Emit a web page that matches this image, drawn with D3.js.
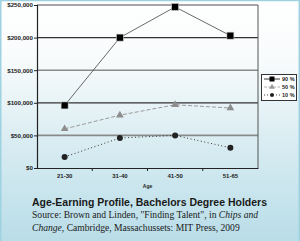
<!DOCTYPE html>
<html><head><meta charset="utf-8">
<script src="https://cdn.jsdelivr.net/npm/d3@7"></script>
<style>html,body{margin:0;padding:0;overflow:hidden}svg{display:block}</style>
</head><body>
<script>
const categories = ["21-30", "31-40", "41-50", "51-65"];
const p90 = [96000, 200000, 247000, 203000];
const p50 = [60000, 81000, 97000, 92000];
const p10 = [17000, 46000, 50000, 31000];
const yTicks = [0, 50000, 100000, 150000, 200000, 250000];
const seriesNames = ["90 %", "50 %", "10 %"];

const W = 300, H = 241;
const svg = d3.select("body").append("svg").attr("width", W).attr("height", H);
const defs = svg.append("defs");
const g = defs.append("linearGradient").attr("id", "bg").attr("x1", 0).attr("y1", 0).attr("x2", 0).attr("y2", 1);
g.append("stop").attr("offset", "0").attr("stop-color", "#ffffff");
g.append("stop").attr("offset", "0.25").attr("stop-color", "#f8fbfc");
g.append("stop").attr("offset", "0.6").attr("stop-color", "#d8ecf2");
g.append("stop").attr("offset", "1").attr("stop-color", "#b9dde8");
svg.append("rect").attr("width", W).attr("height", H).attr("fill", "url(#bg)");
svg.append("rect").attr("x", 0.75).attr("y", 0.5).attr("width", W - 1.5).attr("height", H + 2)
  .attr("fill", "none").attr("stroke", "#9fd2e0").attr("stroke-width", 1.5);

const L = 37, R = 258, T = 5, B = 168;
const x = d3.scaleBand().domain(categories).range([L, R]);
const y = d3.scaleLinear().domain([0, 250000]).range([B, T]);

svg.append("g").selectAll("line").data(yTicks.filter(d => d > 0)).join("line")
  .attr("x1", L).attr("x2", R).attr("y1", d => y(d)).attr("y2", d => y(d))
  .attr("stroke", d => (d / 50000) % 2 === 0 ? "#333" : "#8a8a8a")
  .attr("stroke-width", d => (d / 50000) % 2 === 0 ? 1.2 : 1.6);
svg.append("line").attr("x1", R).attr("x2", R).attr("y1", T).attr("y2", B).attr("stroke", "#555").attr("stroke-width", 1);

const ya = svg.append("g").attr("transform", `translate(${L},0)`)
  .call(d3.axisLeft(y).tickValues(yTicks).tickSize(3).tickFormat(d => "$" + d3.format(",")(d)));
ya.select(".domain").attr("stroke", "#222").attr("stroke-width", 1.2);
ya.selectAll(".tick line").attr("stroke", "#222");
ya.selectAll("text").attr("font-family", "Liberation Sans, Arial, sans-serif").attr("font-size", 6.2)
  .attr("font-weight", "bold").attr("fill", "#222").attr("x", -4);

const xa = svg.append("g").attr("transform", `translate(0,${B})`)
  .call(d3.axisBottom(x).tickSize(0));
xa.select(".domain").attr("stroke", "#222").attr("stroke-width", 1.2);
xa.selectAll("text").attr("font-family", "Liberation Sans, Arial, sans-serif").attr("font-size", 6)
  .attr("font-weight", "bold").attr("fill", "#222").attr("dy", "0.71em").attr("y", 6);
svg.append("g").selectAll("line").data(categories.slice(1)).join("line")
  .attr("x1", d => x(d)).attr("x2", d => x(d)).attr("y1", B).attr("y2", B + 3)
  .attr("stroke", "#222");
svg.append("text").attr("x", (L + R) / 2).attr("y", 188).attr("text-anchor", "middle")
  .attr("font-family", "Liberation Sans, Arial, sans-serif").attr("font-size", 5).attr("font-weight", "bold")
  .attr("fill", "#222").text("Age");

const cx = d => x(d) + x.bandwidth() / 2;
const line = d3.line().x((d, i) => cx(categories[i])).y(d => y(d));

svg.append("path").datum(p50).attr("d", line).attr("fill", "none").attr("stroke", "#9a9a9a")
  .attr("stroke-width", 1).attr("stroke-dasharray", "4,2");
svg.append("path").datum(p10).attr("d", line).attr("fill", "none").attr("stroke", "#333")
  .attr("stroke-width", 1).attr("stroke-dasharray", "1,2.5");
svg.append("path").datum(p90).attr("d", line).attr("fill", "none").attr("stroke", "#444")
  .attr("stroke-width", 0.8);

svg.append("g").selectAll("rect").data(p90).join("rect")
  .attr("x", (d, i) => cx(categories[i]) - 3.5).attr("y", d => y(d) - 3.5)
  .attr("width", 7).attr("height", 7).attr("fill", "#000").attr("stroke", "#ccc").attr("stroke-width", 0.6);
const tri = d3.symbol().type(d3.symbolTriangle).size(26);
svg.append("g").selectAll("path").data(p50).join("path")
  .attr("d", tri).attr("transform", (d, i) => `translate(${cx(categories[i])},${y(d)})`)
  .attr("fill", "#8d8d8d");
svg.append("g").selectAll("circle").data(p10).join("circle")
  .attr("cx", (d, i) => cx(categories[i])).attr("cy", d => y(d)).attr("r", 3).attr("fill", "#222");

const lg = svg.append("g");
lg.append("rect").attr("x", 261.5).attr("y", 74.5).attr("width", 35).attr("height", 26)
  .attr("fill", "#fff").attr("stroke", "#333").attr("stroke-width", 1);
const ly = [79, 87, 95];
const styles = [
  {stroke: "#222", dash: null},
  {stroke: "#aaa", dash: "3,1.5"},
  {stroke: "#333", dash: "1,2"}
];
seriesNames.forEach((n, i) => {
  lg.append("line").attr("x1", 264).attr("x2", 280).attr("y1", ly[i]).attr("y2", ly[i])
    .attr("stroke", styles[i].stroke).attr("stroke-width", 0.9).attr("stroke-dasharray", styles[i].dash);
  if (i === 0) lg.append("rect").attr("x", 269.5).attr("y", ly[i] - 2.5).attr("width", 5).attr("height", 5).attr("fill", "#000");
  if (i === 1) lg.append("path").attr("d", d3.symbol().type(d3.symbolTriangle).size(14)).attr("transform", `translate(272,${ly[i]})`).attr("fill", "#999");
  if (i === 2) lg.append("circle").attr("cx", 272).attr("cy", ly[i]).attr("r", 2).attr("fill", "#222");
  lg.append("text").attr("x", 282).attr("y", ly[i] + 2).attr("font-family", "Liberation Sans, Arial, sans-serif")
    .attr("font-size", 5.5).attr("font-weight", "bold").attr("fill", "#222").text(n);
});

svg.append("text").attr("x", 32).attr("y", 206).attr("font-family", "Liberation Sans, Arial, sans-serif")
  .attr("font-size", 10.5).attr("font-weight", "bold").attr("fill", "#1a1a1a")
  .attr("textLength", 235).attr("lengthAdjust", "spacingAndGlyphs")
  .text("Age-Earning Profile, Bachelors Degree Holders");
const s1 = svg.append("text").attr("x", 32).attr("y", 218).attr("font-family", "Liberation Serif, Times New Roman, serif")
  .attr("font-size", 9.6).attr("fill", "#1a1a1a");
s1.append("tspan").text("Source: Brown and Linden, \"Finding Talent\", in ");
s1.append("tspan").attr("font-style", "italic").text("Chips and");
const s2 = svg.append("text").attr("x", 32).attr("y", 231).attr("font-family", "Liberation Serif, Times New Roman, serif")
  .attr("font-size", 9.6).attr("fill", "#1a1a1a");
s2.append("tspan").attr("font-style", "italic").text("Change");
s2.append("tspan").text(", Cambridge, Massachussets: MIT Press, 2009");
</script>
</body></html>
